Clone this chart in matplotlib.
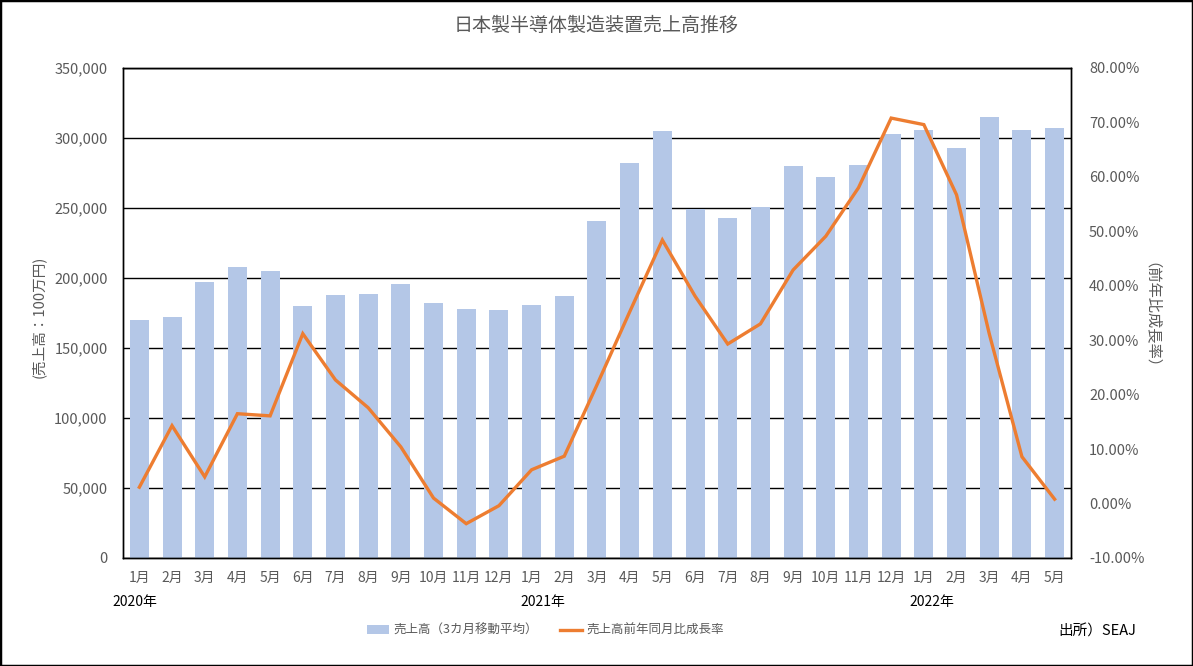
import matplotlib
matplotlib.use("Agg")
import matplotlib.pyplot as plt
from matplotlib.ticker import FuncFormatter, MultipleLocator
from matplotlib.patches import Rectangle
from matplotlib.lines import Line2D
from matplotlib.patches import Patch

plt.rcParams['font.family'] = ['Noto Sans CJK JP', 'DejaVu Sans']

months = ["1月", "2月", "3月", "4月", "5月", "6月", "7月", "8月", "9月", "10月", "11月", "12月",
          "1月", "2月", "3月", "4月", "5月", "6月", "7月", "8月", "9月", "10月", "11月", "12月",
          "1月", "2月", "3月", "4月", "5月"]
years = ["2020年", "2021年", "2022年"]
year_index = [0, 12, 24]

sales = [170000, 172000, 197000, 208000, 205000, 180000, 188000, 188500, 196000, 182000, 178000, 177000,
         181000, 187000, 241000, 282000, 305000, 249000, 243000, 251000, 280000, 272000, 281000, 303000,
         306000, 293000, 315000, 306000, 307000]
growth = [3.0, 14.3, 4.9, 16.5, 16.1, 31.2, 22.7, 17.6, 10.4, 1.0, -3.7, -0.4,
          6.2, 8.7, 21.8, 35.2, 48.4, 38.1, 29.3, 33.0, 42.9, 49.1, 58.0, 70.8,
          69.6, 56.7, 31.2, 8.6, 0.8]

title = "日本製半導体製造装置売上高推移"
label_bar = "売上高（3カ月移動平均）"
label_line = "売上高前年同月比成長率"
ylabel_left = "(売上高：100万円)"
ylabel_right = "（前年比成長率）"
source = "出所）SEAJ"

bar_color = "#B4C7E7"
line_color = "#ED7D31"
gray = "#595959"

fig = plt.figure(figsize=(11.93, 6.66), dpi=100)
fig.patches.append(Rectangle((0, 0), 1, 1, transform=fig.transFigure, fill=False,
                             edgecolor="black", linewidth=2.5, zorder=10))

ax = fig.add_axes([0.1031, 0.1622, 0.7946, 0.7357])
x = list(range(len(months)))
ax.bar(x, sales, width=0.58, color=bar_color, zorder=2)
ax.set_xlim(-0.5, len(months) - 0.5)
ax.set_ylim(0, 350000)
ax.yaxis.set_major_locator(MultipleLocator(50000))
ax.yaxis.set_major_formatter(FuncFormatter(lambda v, p: f"{int(v):,}"))
ax.grid(axis='y', color='black', linewidth=1.0, zorder=1)
ax.set_axisbelow(True)
for s in ax.spines.values():
    s.set_color('black')
    s.set_linewidth(1.0)
ax.tick_params(axis='y', length=0, labelsize=10.5, labelcolor=gray, pad=11)
ax.set_xticks(x)
ax.set_xticklabels(months)
ax.tick_params(axis='x', length=0, labelsize=10, labelcolor=gray, pad=9)
year_offsets = [-0.15, 0.35, 0.25]
for i, off, yl in zip(year_index, year_offsets, years):
    ax.text(i + off, -0.09, yl, transform=ax.get_xaxis_transform(), ha='center', va='center',
            fontsize=10, color='black')

ax2 = ax.twinx()
ax2.plot(x, growth, color=line_color, linewidth=2.4, zorder=3, solid_joinstyle='miter')
ax2.set_ylim(-10, 80)
ax2.yaxis.set_major_locator(MultipleLocator(10))
ax2.yaxis.set_major_formatter(FuncFormatter(lambda v, p: f"{v:.2f}%"))
ax2.tick_params(axis='y', length=0, labelsize=10.5, labelcolor=gray, pad=13)
for s in ax2.spines.values():
    s.set_color('black')
    s.set_linewidth(1.0)

fig.text(0.5, 0.962, title, ha='center', va='center', fontsize=13.7, color=gray)
fig.text(0.032, 0.525, ylabel_left, rotation=90, ha='center', va='center', fontsize=10.5, color=gray)
fig.text(0.959, 0.515, ylabel_right, rotation=270, ha='center', va='center', fontsize=11, color=gray)

handles = [Patch(facecolor=bar_color, edgecolor='none'),
           Line2D([0], [0], color=line_color, linewidth=2.4)]
fig.legend(handles, [label_bar, label_line], loc='center', bbox_to_anchor=(0.457, 0.053),
           ncol=2, frameon=False, fontsize=9, labelcolor=gray, columnspacing=1.8,
           handlelength=1.8, handletextpad=0.3)
fig.text(0.920, 0.051, source, ha='center', va='center', fontsize=10.5, color='black')

fig.savefig("out.png", dpi=100)
